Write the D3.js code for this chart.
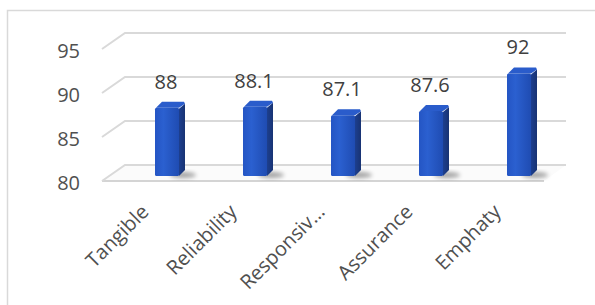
<!DOCTYPE html>
<html>
<head>
<meta charset="utf-8">
<script src="https://cdn.jsdelivr.net/npm/d3@7"></script>
<style>
  body { margin: 0; background: #fff; }
  svg text { font-family: "Open Sans", sans-serif; }
</style>
</head>
<body>
<div class="chart"></div>
<script>
// data
var categories = ["Tangible", "Reliability", "Responsiv\u2026", "Assurance", "Emphaty"];
var values = [88, 88.1, 87.1, 87.6, 92];
var yTicks = [80, 85, 90, 95];

var svgWidth = 595;
var svgHeight = 305;

var svg = d3.select(".chart")
  .append("svg")
  .attr("width", svgWidth)
  .attr("height", svgHeight);

var defs = svg.append("defs");

var frontGrad = defs.append("linearGradient").attr("id", "frontGrad")
  .attr("x1", "0").attr("x2", "1").attr("y1", "0").attr("y2", "0");
frontGrad.append("stop").attr("offset", "0%").attr("stop-color", "#2455c4");
frontGrad.append("stop").attr("offset", "35%").attr("stop-color", "#2b60d0");
frontGrad.append("stop").attr("offset", "100%").attr("stop-color", "#1f4cb2");

var sideGrad = defs.append("linearGradient").attr("id", "sideGrad")
  .attr("x1", "0").attr("x2", "1").attr("y1", "0").attr("y2", "0");
sideGrad.append("stop").attr("offset", "0%").attr("stop-color", "#1d3f8f");
sideGrad.append("stop").attr("offset", "100%").attr("stop-color", "#183373");

defs.append("filter").attr("id", "blur")
  .attr("x", "-50%").attr("y", "-50%").attr("width", "200%").attr("height", "200%")
  .append("feGaussianBlur").attr("stdDeviation", 2.2);

// outer frame
svg.append("path")
  .attr("d", "M7.5,305 L7.5,10.5 L595,10.5")
  .attr("fill", "none")
  .attr("stroke", "#d9d9d9")
  .attr("stroke-width", 1.5);

// 3D box: front plane / back wall
var depthX = 23;
var xFront = d3.scaleBand().domain(categories).range([102, 542]);
var xBack = d3.scaleBand().domain(categories).range([123, 563]);
var yFront = d3.scaleLinear().domain([80, 95]).range([181, 49]);
var yBack = d3.scaleLinear().domain([80, 95]).range([165, 33]);
var yBar = d3.scaleLinear().domain([80, 95]).range([176, 47.8]);

var grid = svg.append("g").attr("class", "grid");

// floor
grid.append("path")
  .attr("d", "M102," + yFront(80) + " L" + (102 + depthX) + "," + yBack(80) +
    " L566," + yBack(80) + " L544," + yFront(80) + " Z")
  .attr("fill", "#fbfbfb")
  .attr("stroke", "none");
grid.append("line")
  .attr("x1", 102).attr("x2", 544)
  .attr("y1", yFront(80)).attr("y2", yFront(80))
  .attr("stroke", "#d4d4d4").attr("stroke-width", 2);

yTicks.forEach(function(t) {
  grid.append("path")
    .attr("d", "M102," + yFront(t) + " L" + (102 + depthX) + "," + yBack(t) + " L566," + yBack(t))
    .attr("fill", "none")
    .attr("stroke", "#d9d9d9")
    .attr("stroke-width", 2);
});

// y axis labels
var yAxis = d3.axisLeft(yFront).tickValues(yTicks).tickSize(0).tickPadding(0);
var yAxisG = svg.append("g")
  .attr("transform", "translate(80, 2)")
  .call(yAxis);
yAxisG.select(".domain").remove();
yAxisG.selectAll("text")
  .attr("font-family", "Open Sans, sans-serif")
  .attr("font-size", 20)
  .attr("fill", "#505050");

// bars
var barW = 24, d = 6;
var bars = svg.selectAll(".bar")
  .data(values)
  .enter()
  .append("g")
  .attr("class", "bar");

bars.each(function(v, i) {
  var g = d3.select(this);
  var xc = xBack(categories[i]) + xBack.bandwidth() / 2;
  var x0 = xc - barW / 2, x1 = xc + barW / 2;
  var top = yBar(v), base = yBar(80);

  g.append("ellipse")
    .attr("cx", x1 + 4).attr("cy", base - 1)
    .attr("rx", 13).attr("ry", 3)
    .attr("fill", "#000").attr("opacity", 0.35)
    .attr("filter", "url(#blur)");

  g.append("path")
    .attr("d", "M" + x1 + "," + (top + 1) + " L" + (x1 + d) + "," + (top - d + 2) +
      " L" + (x1 + d) + "," + (base - d) + " L" + x1 + "," + base + " Z")
    .attr("fill", "url(#sideGrad)");

  g.append("path")
    .attr("d", "M" + (x0 + 1) + "," + top + " L" + (x0 + d + 1) + "," + (top - d) +
      " L" + (x1 + d - 1) + "," + (top - d) + " L" + (x1 + d) + "," + (top - d + 2) +
      " L" + x1 + "," + top + " Z")
    .attr("fill", "#2a5ccb");

  g.append("rect")
    .attr("x", x0).attr("y", top)
    .attr("width", barW).attr("height", base - top)
    .attr("rx", 1.5)
    .attr("fill", "url(#frontGrad)");

  g.append("text")
    .attr("x", xc - 1)
    .attr("y", top - 19)
    .attr("text-anchor", "middle")
    .attr("font-size", 20)
    .attr("fill", "#404040")
    .text(v);
});

// category labels
var xAxis = d3.axisBottom(xFront).tickSize(0).tickPadding(0);
var xAxisG = svg.append("g")
  .attr("transform", "translate(0, 213)")
  .call(xAxis);
xAxisG.select(".domain").remove();
xAxisG.selectAll("text")
  .attr("font-family", "Open Sans, sans-serif")
  .attr("font-size", 20)
  .attr("fill", "#505050")
  .attr("text-anchor", "end")
  .attr("x", 0).attr("y", 0).attr("dy", 0)
  .attr("transform", "translate(4,0) rotate(-45)");
</script>
</body>
</html>
